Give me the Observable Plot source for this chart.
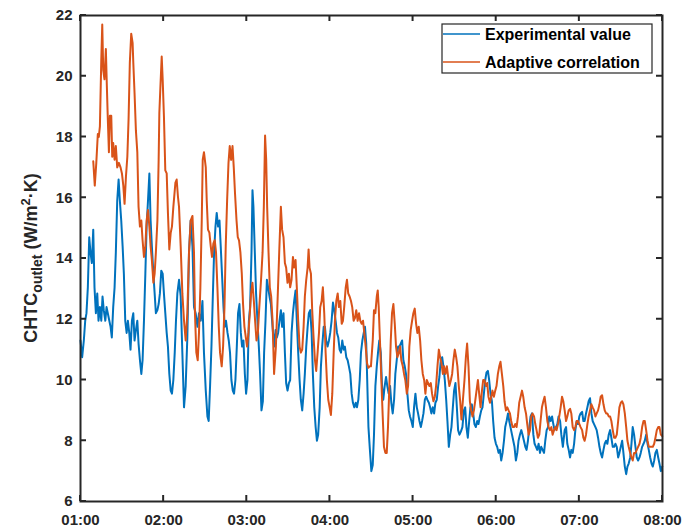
<!DOCTYPE html>
<html>
<head>
<meta charset="utf-8">
<script src="https://cdn.jsdelivr.net/npm/d3@7"></script>
<script src="https://cdn.jsdelivr.net/npm/@observablehq/plot@0.6"></script>
<style>
  html, body { margin: 0; padding: 0; background: #ffffff; }
  #chart { position: absolute; left: 0; top: 0; }
</style>
</head>
<body>
<div id="chart"></div>
<script>
// ---------------- DATA (minutes after 01:00, CHTC in W/m²·K) ----------------
const seriesNames = ["Experimental value", "Adaptive correlation"];
const seriesColors = ["#0072BD", "#D95319"];
const xTickLabels = ["01:00", "02:00", "03:00", "04:00", "05:00", "06:00", "07:00", "08:00"];
const yTicks = [6, 8, 10, 12, 14, 16, 18, 20, 22];

const expMinutes = [
  0,1.2,2.4,3.4,4.3,5.3,6.3,7.2,8.2,9.2,
  10.1,11.1,12.1,13,14,15,15.9,16.8,17.9,18.8,
  19.7,20.8,21.7,22.6,23.6,24.6,25.5,26.5,27.5,28.4,
  29.4,30.4,31.3,32.3,33.3,34.2,35.2,36.1,37.1,38.1,
  39,40,41,41.9,42.9,43.9,44.8,45.8,46.8,47.7,
  48.7,49.7,50.6,51.5,52.6,53.5,54.4,55.5,56.4,57.3,
  58.3,59.3,60.2,61.2,62.2,63.1,64.1,65.1,66,67,
  68,68.9,69.9,71.1,72.3,73.5,74.7,75.9,77.1,78.3,
  79.5,80.8,81.9,83.1,84.4,85.5,86.8,88,89.1,90.4,
  91.6,92.5,93.5,94.5,95.4,96.4,97.4,98.3,99.3,100.3,
  101.2,102.1,103.2,104.1,105,106.1,107,107.9,108.9,109.9,
  110.8,111.8,112.8,113.7,114.7,115.7,116.6,117.6,118.6,119.5,
  120.5,121.5,122.4,123.4,124.1,124.8,125.8,126.7,127.7,128.7,
  129.6,130.6,131.6,132.5,133.5,134.5,135.4,136.4,137.4,138.6,
  139.7,140.8,141.7,142.6,143.6,144.6,145.5,146.5,147.5,148.4,
  149.4,150.4,151.3,152.3,153.3,154.2,155.2,156.1,157.1,158.1,
  159,160,161,161.9,162.9,163.9,164.8,165.8,166.8,167.7,
  168.7,169.7,170.6,171.5,172.6,173.5,174.4,175.5,176.4,177.3,
  178.3,179.3,180.2,181.2,182.2,183.1,184.1,185.1,186,187,
  188,188.9,189.9,190.8,191.8,192.8,193.7,194.7,195.7,196.6,
  197.6,198.6,199.5,200.5,201.5,202.4,203.4,204.4,205.3,206.2,
  206.9,207.8,208.7,209.9,210.9,211.8,212.8,213.8,214.7,215.6,
  216.7,217.6,218.5,219.5,220.5,221.4,222.4,223.4,224.3,225.3,
  226.3,227.2,228.2,229.2,230.1,231.1,232.1,233,234,234.9,
  235.9,236.9,237.8,238.8,239.8,240.7,241.7,242.7,243.6,244.6,
  245.6,246.5,247.5,248.5,249.4,250.3,251.4,252.3,253.2,254.2,
  255.2,256.1,257.1,258.1,259,260,261,261.9,262.9,263.9,
  264.8,265.8,266.8,267.7,268.7,269.6,270.6,271.6,272.5,273.5,
  274.5,275.6,276.7,277.6,278.5,279.5,280.5,281.4,282.4,283.4,
  284.3,285.3,286.3,287.2,288.2,289.2,290.1,291.1,292.1,293,
  294,294.9,295.9,296.9,297.8,298.8,299.8,300.7,301.7,302.7,
  303.6,304.6,305.6,306.5,307.5,308.5,309.4,310.3,311.4,312.3,
  313.2,314.2,315.2,316.1,317.1,318.1,319,320,321,321.9,
  322.9,323.9,324.8,325.8,326.8,327.7,328.7,329.6,330.6,331.6,
  332.5,333.5,334.5,335.4,336.4,337.4,338.3,339.3,340.3,341.2,
  342.1,343.2,344.1,345,346.1,347,348.1,349.4,350.4,351.3,
  352.3,353.3,354.2,355.2,356.2,357.1,358.1,359.1,360,360.9,
  362,362.9,363.8,364.8,365.8,366.7,367.7,368.7,369.6,370.6,
  371.6,372.5,373.5,374.5,375.4,376.4,377.4,378.3,379.3,380.2,
  381.2,382.2,383.1,384.1,385.1,386,387,388,388.9,389.9,
  390.9,391.8,392.8,393.8,394.7,395.6,396.7,397.6,398.5,399.5,
  400.5,401.4,402.4,403.4,404.3,405.3,406.3,407.2,408.2,409.2,
  410.1,411.1,412.1,413,414,414.9,415.9,416.9,417.8,418.8,419.8
];
const expValues = [
  11.3,10.75,11.3,11.95,12.2,13.05,14.7,14.2,13.85,14.95,
  13.05,12.2,12.85,11.95,12.4,11.95,12.75,12.3,11.95,12.4,
  12.2,11.95,11.75,11.4,12.4,13.05,14.2,15.9,16.6,15.9,
  15.25,14.4,13.5,11.95,11.55,11.95,11.55,11.0,11.95,12.2,
  11.3,11.65,11.95,11.2,10.65,10.2,10.65,11.95,13.5,15.05,
  15.9,16.8,15.25,14.4,13.5,12.85,12.2,12.3,12.5,12.85,
  13.6,13.5,12.85,12.2,11.55,11.1,10.2,9.65,9.55,10.0,
  10.9,11.95,12.85,13.3,12.75,10.9,9.1,9.8,11.4,14.2,
  15.25,14.4,12.4,12.2,11.75,12.2,11.95,12.6,10.9,9.65,
  8.8,8.65,9.8,11.1,12.6,14.2,15.05,15.5,15.05,15.25,
  14.4,13.5,12.4,11.75,11.95,11.55,11.3,10.9,10.0,9.65,
  9.55,10.0,11.1,12.2,12.5,11.55,11.1,11.3,10.2,9.55,
  10.0,11.95,12.4,14.2,16.25,15.7,14.2,12.85,11.95,11.1,
  10.2,9.0,9.3,10.9,11.95,13.3,13.05,12.75,12.5,11.75,
  11.1,11.65,11.4,11.55,11.95,12.3,11.75,12.2,10.9,9.9,
  9.65,9.9,10.0,11.55,12.2,12.6,12.95,11.95,10.9,10.0,
  9.35,9.0,9.55,10.2,11.1,11.75,12.2,12.3,11.55,10.2,
  9.1,8.45,8.0,8.2,9.1,10.45,11.1,11.75,11.75,11.3,
  11.1,11.3,11.55,11.95,12.55,12.3,11.95,11.55,11.4,11.0,
  10.9,11.3,11.0,11.1,10.75,10.65,10.45,10.2,9.55,9.25,
  9.1,9.25,9.1,9.35,10.0,10.9,11.3,11.55,11.75,11.2,
  10.0,8.45,7.8,7.0,7.2,8.2,9.8,10.45,10.9,11.3,
  10.9,9.8,9.35,9.8,10.1,9.8,9.55,9.8,9.25,8.9,
  9.35,10.2,10.65,11.1,11.1,11.2,11.3,10.65,10.45,10.2,
  9.55,9.0,8.8,8.65,8.45,9.1,9.55,9.1,8.9,8.65,
  8.45,8.65,8.9,9.35,9.45,9.35,9.25,9.1,8.9,9.1,
  8.9,9.25,9.35,9.8,10.1,10.65,10.75,10.45,10.0,9.35,
  8.65,7.8,8.2,8.45,9.1,9.65,9.9,9.1,8.35,8.2,
  8.3,8.45,9.0,9.1,8.45,8.1,8.65,9.1,9.2,8.9,
  8.55,8.45,8.65,8.55,8.8,9.0,9.1,9.55,10.0,10.25,
  10.3,10.0,9.55,9.3,8.65,8.1,7.9,7.8,7.6,7.7,
  7.35,7.6,8.0,8.45,8.65,8.9,8.65,8.45,8.2,8.0,
  7.8,7.35,7.6,8.0,8.2,8.35,8.2,8.0,7.8,7.7,
  8.0,8.45,8.8,8.9,8.2,7.9,7.8,7.7,7.9,7.6,
  7.8,7.7,7.6,8.0,8.35,8.45,8.8,8.65,8.8,8.55,
  8.35,8.45,8.55,8.8,8.65,8.2,7.8,8.35,8.45,7.9,
  7.7,7.45,7.7,7.6,7.9,8.35,8.65,8.55,8.8,8.9,
  8.95,8.65,8.65,8.9,9.1,9.3,9.4,8.9,8.65,8.55,
  8.45,8.35,8.1,7.8,7.6,7.45,7.7,7.9,8.0,7.9,
  8.2,8.35,8.1,7.8,7.8,7.9,7.8,7.45,7.6,7.8,
  8.0,7.6,7.15,6.9,7.15,7.25,7.45,7.9,8.45,8.2,
  7.8,7.45,7.35,7.45,7.6,7.8,7.9,8.0,8.2,7.9,
  7.7,7.45,7.25,7.15,7.35,7.6,7.7,7.45,7.25,7.0,7.15
];

const adaMinutes = [
  9.2,10.3,11.4,12.5,13.2,14,15,15.7,16.4,17.3,
  18.3,19,19.7,20.5,21.2,22.2,22.9,23.6,24.6,25.5,
  26.5,27.7,28.9,29.9,30.9,31.8,32.8,33.8,34.7,35.6,
  36.6,37.6,38.1,39,40,41,41.9,42.9,43.9,44.8,
  45.8,46.8,47.7,48.7,49.7,50.6,51.5,52.6,53.5,54.4,
  55.5,56.4,56.9,57.8,58.6,59.3,60.2,61.2,62.2,63.1,
  64.1,65.1,66,67,68.5,69.4,70.3,71.1,72.3,73.5,
  74.7,75.9,77.1,78.3,79.5,80.8,81.9,82.6,83.6,84.6,
  85.5,86.5,87.5,88.2,89.1,90.4,91.1,92,93,94,
  94.9,95.9,96.9,97.8,98.8,99.8,100.7,101.9,102.9,103.9,
  104.8,105.8,106.8,107.7,108.7,109.7,110.6,111.5,112.6,113.5,
  114.4,115.4,116.4,117.3,118.3,119.3,120.2,121.2,122.2,123.1,
  124.1,125.1,126,127,128,128.9,130.3,131.4,132.3,133.2,
  134,134.7,135.7,136.6,137.6,138.6,139.7,141,142.2,143.4,
  144.6,145.5,146.5,147.5,148.4,149.4,150.4,151.3,152.3,153.3,
  154.2,155.2,156.1,157.1,158.1,159,160,161,161.9,162.9,
  163.9,164.6,165.3,166.3,167.2,168.2,169.2,170.1,171.1,172.1,
  173,174,174.9,175.9,176.9,177.8,178.8,179.8,180.7,181.7,
  182.7,183.6,184.6,185.6,186.5,187.5,188.5,189.4,190.3,191.4,
  192.3,193.2,194.2,195.2,196.1,197.1,198.1,199,200,201,
  201.9,202.9,203.9,204.8,205.8,206.8,207.7,208.7,209.6,210.9,
  211.8,212.8,213.8,214.5,215.2,216.1,217.1,218.1,219,220,
  221,221.9,222.9,223.9,224.8,225.8,226.8,227.7,228.7,229.7,
  230.6,231.5,232.6,233.5,234.4,235.5,236.4,237.3,238.3,239.3,
  240.2,241.2,242.2,243.1,244.1,245.1,246,247,248,248.9,
  249.9,250.8,251.8,252.8,253.7,254.7,255.7,256.6,257.6,258.6,
  259.5,260.5,261.5,262.4,263.4,264.4,265.3,266.2,267.3,268.2,
  269.1,270.1,271.1,272,273,274,274.9,275.9,277.1,278.1,
  279,280,281,281.9,282.9,283.9,284.8,285.8,286.8,287.7,
  288.7,289.7,290.6,291.5,292.6,293.5,294.4,295.5,296.4,297.3,
  298.3,299.3,300.2,301.2,302.2,303.1,304.1,305.1,306,307,
  308,308.9,309.9,310.8,311.8,312.8,313.7,314.7,315.7,316.6,
  317.6,318.6,319.5,320.5,321.5,322.4,323.4,324.4,325.3,326.2,
  327.3,328.2,329.1,330.1,331.1,332,333,334,334.9,335.9,
  336.9,337.8,338.8,339.8,340.7,341.7,342.7,343.6,344.6,345.5,
  346.5,347.5,348.4,349.4,350.4,351.3,352.3,353.3,354.2,355.2,
  356.2,357.1,358.1,359.1,360,360.9,362,362.9,363.8,364.8,
  365.8,366.7,367.7,368.7,369.6,370.6,371.6,372.5,373.5,374.5,
  375.4,376.4,377.4,378.3,379.3,380.2,381.2,382.2,383.1,384.1,
  385.1,386,387,388,388.9,389.9,390.9,391.8,392.8,393.8,
  394.7,395.6,396.7,397.6,398.5,399.5,400.5,401.4,402.4,403.4,
  404.3,405.3,406.3,407.2,408.2,409.2,410.1,411.1,412.1,413,
  414,414.9,415.9,416.9,417.8,418.8,419.8
];
const adaValues = [
  17.2,16.4,17.15,18.1,18.0,18.35,20.55,21.7,20.2,19.9,
  20.9,19.7,18.6,17.5,18.7,18.7,17.35,17.8,17.25,17.7,
  17.0,17.15,17.0,16.8,16.4,15.8,16.7,17.35,18.6,20.45,
  21.4,21.1,20.45,19.45,18.2,17.5,15.7,15.05,15.25,14.6,
  14.05,14.4,15.25,15.6,15.05,14.4,13.95,13.2,13.5,14.2,
  15.25,17.25,18.8,19.8,20.65,19.9,18.7,16.9,16.8,15.5,
  14.3,14.85,15.05,15.7,16.5,16.6,16.05,15.7,14.4,12.85,
  11.95,11.3,12.2,14.2,15.25,15.4,14.2,12.2,10.9,10.65,
  11.55,13.05,15.25,17.25,17.5,17.0,15.9,14.95,14.85,14.4,
  14.05,14.5,14.6,14.2,13.05,11.75,10.9,10.45,11.1,12.4,
  14.4,15.9,17.15,17.7,17.25,17.7,17.0,16.15,15.25,14.7,
  14.6,14.2,13.5,12.5,11.75,11.4,11.1,11.55,12.2,12.85,
  13.2,12.6,11.95,11.3,11.55,12.3,13.3,14.2,15.7,18.05,
  17.25,15.7,14.2,13.05,12.75,11.95,10.2,11.1,12.6,14.2,
  15.7,14.95,14.7,13.85,13.7,13.2,13.5,13.05,13.3,14.05,
  13.7,13.95,13.05,11.95,11.1,10.9,11.0,11.75,12.75,13.3,
  13.7,14.3,13.7,13.5,12.3,11.4,10.65,10.3,10.9,11.55,
  12.4,12.6,13.05,12.2,10.9,10.0,9.35,9.1,8.85,9.55,
  10.9,11.95,12.6,12.85,12.4,12.6,11.85,11.95,12.4,13.05,
  13.3,12.85,12.75,12.6,12.4,11.95,12.05,12.3,11.95,12.2,
  11.95,11.85,11.95,11.55,11.1,10.55,10.4,10.45,10.45,11.3,
  12.3,12.2,12.75,12.95,12.4,11.3,10.0,8.8,7.8,7.6,
  7.6,8.45,9.8,11.3,12.2,12.5,11.85,11.1,10.75,10.9,
  11.1,10.65,10.45,10.2,10.0,9.55,9.8,11.1,11.65,11.95,
  12.2,12.35,11.85,11.55,11.75,11.3,10.65,10.2,10.0,9.55,
  10.0,9.9,9.8,9.9,9.55,9.3,9.45,9.8,10.45,11.0,
  10.75,10.55,10.2,10.45,10.2,10.45,10.1,9.8,10.0,10.2,
  10.65,11.0,10.75,10.45,9.8,9.3,8.7,9.3,10.0,10.75,
  11.2,10.45,9.3,9.0,8.8,9.0,9.3,9.65,10.0,9.55,
  9.1,9.65,10.0,10.0,9.8,9.9,9.45,9.25,9.45,9.65,
  9.45,9.65,9.8,10.2,10.45,10.6,10.2,9.8,9.3,9.0,
  9.1,9.0,8.9,8.65,8.45,8.45,8.55,8.45,8.8,9.25,
  9.45,9.65,9.45,9.1,8.9,8.55,8.2,8.35,8.8,8.9,
  8.8,8.55,8.35,8.1,8.2,8.65,9.1,9.3,9.45,9.1,
  8.65,8.45,8.35,8.45,8.2,8.35,8.45,8.35,8.55,8.8,
  9.1,9.45,9.3,9.0,8.65,8.8,9.0,9.05,8.9,8.45,
  8.35,8.45,8.65,8.65,8.55,8.45,8.35,8.1,8.0,8.2,
  8.55,8.8,9.0,9.2,9.1,9.0,8.8,8.9,9.0,9.2,
  9.45,9.5,9.2,9.0,8.9,8.9,8.8,8.8,8.65,8.35,
  8.1,8.1,8.2,8.65,9.1,9.25,9.3,9.2,8.9,8.45,
  8.0,7.8,7.6,7.45,7.35,7.6,7.6,7.7,7.8,7.9,
  8.1,8.45,8.65,8.65,8.35,8.0,7.8,7.8,7.8,7.8,
  7.9,8.1,8.35,8.45,8.45,8.2,8.15
];

// ---------------- BUILD ----------------
const base = Date.UTC(2000, 0, 1, 0, 0);
const parseHM = s => { const [h, m] = s.split(":").map(Number); return new Date(base + (h * 60 + m) * 60000); };
const hourTicks = xTickLabels.map(parseHM);
const start = hourTicks[0].getTime();
const toDate = m => new Date(start + m * 60000);

const expRows = expMinutes.map((m, i) => ({ t: toDate(m), v: expValues[i] }));
const adaRows = adaMinutes.map((m, i) => ({ t: toDate(m), v: adaValues[i] }));

const ink = "#262626";
const fontFamily = "'Liberation Sans', Arial, Helvetica, sans-serif";

const chart = Plot.plot({
  width: 686,
  height: 531,
  marginLeft: 80,
  marginRight: 24,
  marginTop: 15,
  marginBottom: 30,
  style: { fontFamily, fontSize: "15px", fontWeight: "bold", color: ink, background: "#ffffff", overflow: "visible" },
  x: { type: "utc", domain: [hourTicks[0], hourTicks[hourTicks.length - 1]], label: null },
  y: { domain: [yTicks[0], yTicks[yTicks.length - 1]], label: null },
  marks: [
    Plot.line(expRows, { x: "t", y: "v", stroke: seriesColors[0], strokeWidth: 2, strokeLinejoin: "round" }),
    Plot.line(adaRows, { x: "t", y: "v", stroke: seriesColors[1], strokeWidth: 2, strokeLinejoin: "round" }),
    Plot.axisX(hourTicks, { tickFormat: d3.utcFormat("%H:%M"), tickSize: 0, tickPadding: 13, label: null, fill: ink }),
    Plot.axisY(yTicks, { tickSize: 0, tickPadding: 8, label: null, fill: ink }),
    Plot.frame({ stroke: ink, strokeWidth: 2 })
  ]
});

document.getElementById("chart").appendChild(chart);

// inward ticks on all four sides, placed with Plot's scales
const sx = chart.scale("x"), sy = chart.scale("y");
const X = d3.scaleUtc(sx.domain, sx.range);
const Y = d3.scaleLinear(sy.domain, sy.range);
const [xl, xr] = sx.range;
const [yb, yt] = sy.range;
const svg = d3.select(chart);
const tg = svg.append("g").attr("stroke", ink).attr("stroke-width", 2);
const tick = 6;
hourTicks.forEach(t => {
  const x = X(t);
  tg.append("line").attr("x1", x).attr("x2", x).attr("y1", yb).attr("y2", yb - tick);
  tg.append("line").attr("x1", x).attr("x2", x).attr("y1", yt).attr("y2", yt + tick);
});
yTicks.forEach(v => {
  const y = Y(v);
  tg.append("line").attr("x1", xl).attr("x2", xl + tick).attr("y1", y).attr("y2", y);
  tg.append("line").attr("x1", xr).attr("x2", xr - tick).attr("y1", y).attr("y2", y);
});

// y-axis title with subscript / superscript
const yLabel = svg.append("text")
  .attr("transform", `translate(37,${(yb + yt) / 2}) rotate(-90)`)
  .attr("text-anchor", "middle")
  .attr("fill", ink)
  .style("font-family", fontFamily)
  .style("font-weight", "bold")
  .style("font-size", "18px");
yLabel.append("tspan").text("CHTC");
yLabel.append("tspan").attr("dy", 5).style("font-size", "14px").text("outlet");
yLabel.append("tspan").attr("dy", -5).text(" (W/m");
yLabel.append("tspan").attr("dy", -7).style("font-size", "13px").text("2");
yLabel.append("tspan").attr("dy", 7).text("·K)");

// legend
const lg = svg.append("g");
lg.append("rect").attr("x", 442).attr("y", 24).attr("width", 210).attr("height", 49)
  .attr("fill", "#ffffff").attr("stroke", ink).attr("stroke-width", 1.2);
seriesNames.forEach((name, i) => {
  const cy = 34 + i * 28;
  lg.append("line").attr("x1", 443).attr("x2", 480).attr("y1", cy).attr("y2", cy)
    .attr("stroke", seriesColors[i]).attr("stroke-width", 1.7);
  lg.append("text").attr("x", 485).attr("y", cy).attr("dy", "0.36em")
    .attr("text-anchor", "start")
    .attr("fill", "#000").style("font-family", fontFamily).style("font-weight", "bold")
    .style("font-size", "16px").text(name);
});
</script>
</body>
</html>
